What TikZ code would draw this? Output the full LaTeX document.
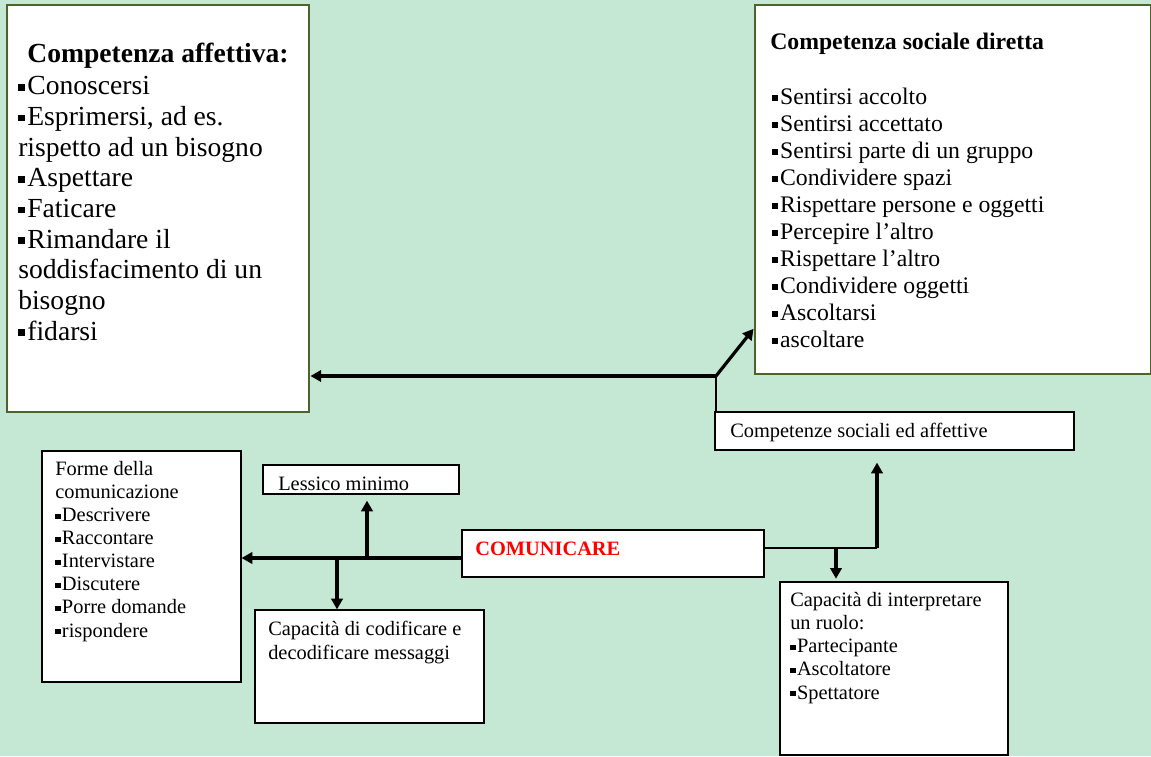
\documentclass[tikz,border=0pt]{standalone}
\usepackage{fontspec}
\setmainfont{Liberation Serif}
\usetikzlibrary{fit,arrows.meta}
\definecolor{sfondo}{RGB}{196,232,212}
\definecolor{oliva}{RGB}{79,98,40}
\definecolor{rosso}{RGB}{255,0,0}
\newcommand{\qd}{\raisebox{0.14em}{\rule{0.26em}{0.25em}}\kern0.07em}

\begin{document}
\begin{tikzpicture}[x=0.75pt,y=-0.75pt,
    bigbox/.style={draw=oliva, line width=2.2pt, fill=white, inner sep=0pt},
    box/.style={draw, line width=0.9pt, fill=white, inner sep=0pt},
    txt/.style={anchor=base west, align=left, inner sep=0pt},
    grande/.style={font=\fontsize{20.7}{23}\selectfont},
    medio/.style={font=\fontsize{17.8}{20.25}\selectfont},
    piccolo/.style={font=\fontsize{15.3}{17.3}\selectfont},
    conn/.style={line width=2.4pt, -{Triangle[length=8pt,width=8.5pt]}},
    thinline/.style={line width=0.8pt}]
    \fill[sfondo] (0,0) rectangle (1151,756);
    \useasboundingbox (0,0) rectangle (1151,756);

    % riquadri
    \node[bigbox, fit={(7,5) (309,412)}] (aff) {};
    \node[bigbox, fit={(755,5) (1151,374)}] (soc) {};
    \node[box, fit={(715,412) (1074,450)}] (comp) {};
    \node[box, fit={(42,451) (241,682)}] (forme) {};
    \node[box, fit={(263,465) (459,494)}] (lessico) {};
    \node[box, fit={(462,530) (764,577)}] (comm) {};
    \node[box, fit={(255,610) (484,723)}] (codif) {};
    \node[box, fit={(780,582) (1008,755)}] (ruolo) {};

    % testi (ancorati all'ultima riga)
    \node[txt, anchor=base, grande] (affT) at (158,63) {\textbf{Competenza affettiva:}};
    \node[txt, grande] (affL) at (18,340) {\qd Conoscersi\\ \qd Esprimersi, ad es.\\ rispetto ad un bisogno\\ \qd Aspettare\\ \qd Faticare\\ \qd Rimandare il\\ soddisfacimento di un\\ bisogno\\ \qd fidarsi};
    \node[txt, medio] (socT) at (770,50) {\textbf{Competenza sociale diretta}};
    \node[txt, medio] (socL) at (772,347) {\qd Sentirsi accolto\\ \qd Sentirsi accettato\\ \qd Sentirsi parte di un gruppo\\ \qd Condividere spazi\\ \qd Rispettare persone e oggetti\\ \qd Percepire l’altro\\ \qd Rispettare l’altro\\ \qd Condividere oggetti\\ \qd Ascoltarsi\\ \qd ascoltare};
    \node[txt, piccolo] (compT) at (730,437) {Competenze sociali ed affettive};
    \node[txt, piccolo] (formeT) at (55,637) {Forme della\\ comunicazione\\ \qd Descrivere\\ \qd Raccontare\\ \qd Intervistare\\ \qd Discutere\\ \qd Porre domande\\ \qd rispondere};
    \node[txt, piccolo] (lessicoT) at (278,490) {Lessico minimo};
    \node[txt, piccolo, text=rosso] (commT) at (475,555) {\textbf{COMUNICARE}};
    \node[txt, piccolo] (codifT) at (268,659) {Capacità di codificare e\\ decodificare messaggi};
    \node[txt, piccolo] (ruoloT) at (790,699) {Capacità di interpretare\\ un ruolo:\\ \qd Partecipante\\ \qd Ascoltatore\\ \qd Spettatore};

    % collegamenti
    \coordinate (lesJ) at (367,558);
    \coordinate (codJ) at (337,558);
    \coordinate (rJ) at (877,548);
    \coordinate (rolJ) at (836,548);
    \coordinate (tJ) at (716,376);

    \draw[conn] (comm.west |- lesJ) -- (forme.east |- lesJ);
    \draw[conn, shorten >=4.5pt] (lesJ) -- (lessico.south -| lesJ);
    \draw[conn] (codJ) -- (codif.north -| codJ);

    \draw[thinline] (comm.east |- rJ) -- (rJ);
    \draw[conn, shorten >=9pt] (rJ) -- (comp.south -| rJ);
    \draw[conn, shorten >=2pt] (rolJ) -- (ruolo.north -| rolJ);

    \draw[thinline] (comp.north -| tJ) -- (tJ);
    \draw[conn] (tJ) -- (aff.east |- tJ);
    \draw[conn] (tJ) -- ([yshift=35pt]soc.south west);
\end{tikzpicture}
\end{document}
